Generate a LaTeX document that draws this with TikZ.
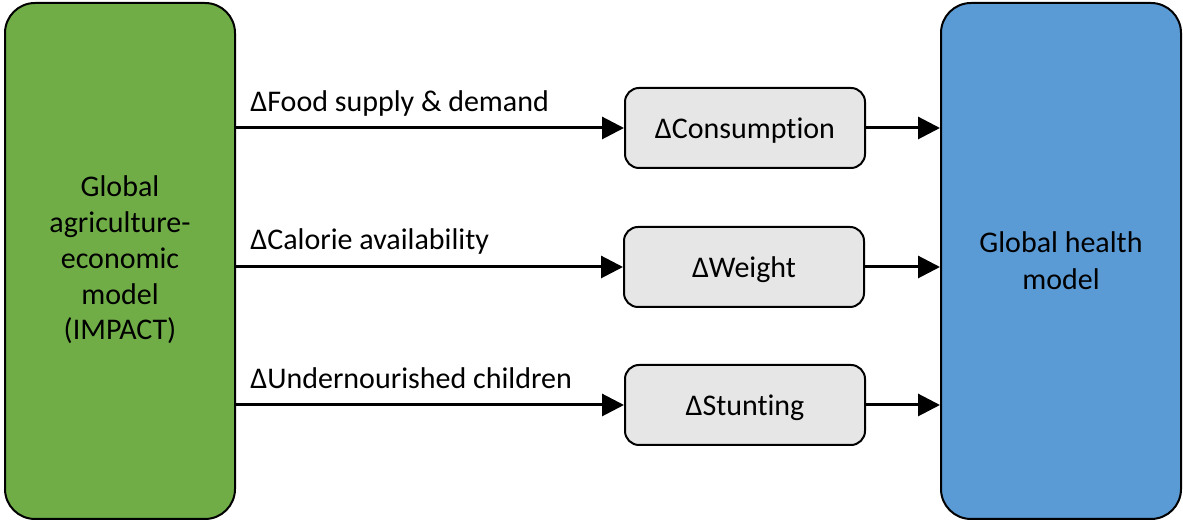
\documentclass[tikz,border=0pt]{standalone}
\usepackage{fontspec}
\setmainfont[Ligatures={NoCommon}]{Carlito}
\usetikzlibrary{arrows.meta}
\definecolor{agrgreen}{HTML}{70AD47}
\definecolor{hlthblue}{HTML}{5B9BD5}
\definecolor{midgray}{HTML}{E7E6E6}
\begin{document}
\begin{tikzpicture}[x=0.5pt,y=-0.5pt,
  bigbox/.style={draw=black,line width=1pt,rounded corners=15pt,minimum height=258pt,inner sep=0pt},
  bigtxt/.style={align=center,anchor=base,inner sep=0pt,font=\fontsize{15}{17.9}\selectfont},
  midbox/.style={draw=black,line width=1pt,rounded corners=7pt,fill=midgray,minimum width=120pt,minimum height=40pt,text height=11pt,text depth=0pt,font=\fontsize{15}{18}\selectfont,inner sep=0pt},
  flow/.style={line width=1.5pt,-{Triangle[length=11pt,width=11pt]}},
  lbl/.style={anchor=base west,font=\fontsize{15}{18}\selectfont,inner sep=0pt}]
\useasboundingbox (0,0) rectangle (1183,522);
\node[bigbox,fill=agrgreen,minimum width=115pt] (agr) at (120,261) {};
\node[bigbox,fill=hlthblue,minimum width=120pt] (hlth) at (1061,261) {};
\node[bigtxt] (agrtxt) at (120,340) {Global\\agriculture-\\economic\\model\\(IMPACT)};
\node[bigtxt,font=\fontsize{15}{18.5}\selectfont] (hlthtxt) at (1061,290) {Global health\\model};
\node[midbox] (cons) at (745,128) {ΔConsumption};
\node[midbox] (wght) at (744,267) {ΔWeight};
\node[midbox] (stnt) at (745,405) {ΔStunting};
\draw[flow] (agr.east |- cons) -- (cons.west);
\draw[flow] (agr.east |- wght) -- (wght.west);
\draw[flow] (agr.east |- stnt) -- (stnt.west);
\draw[flow] (cons.east) -- (hlth.west |- cons);
\draw[flow] (wght.east) -- (hlth.west |- wght);
\draw[flow] (stnt.east) -- (hlth.west |- stnt);
\node[lbl] (l1) at (250,112) {ΔFood supply \& demand};
\node[lbl] (l2) at (250,250) {ΔCalorie availability};
\node[lbl] (l3) at (250,389) {ΔUndernourished children};
\end{tikzpicture}
\end{document}
